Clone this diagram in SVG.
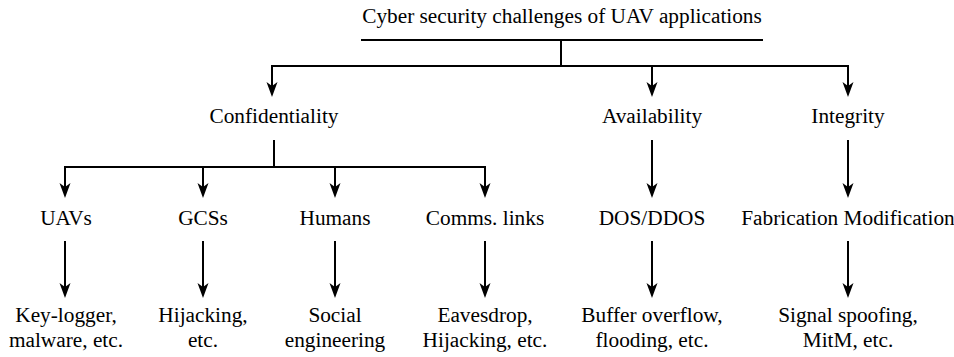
<svg xmlns="http://www.w3.org/2000/svg" width="954" height="357" viewBox="0 0 954 357">
<style>
text{font-family:"Liberation Serif","Times New Roman",serif;font-size:21.3px;fill:#000;text-anchor:middle}
.c line,.c path{stroke:#000;stroke-width:2;fill:none}
.a{marker-end:url(#ah)}
</style>
<defs>
<marker id="ah" markerUnits="userSpaceOnUse" markerWidth="16" markerHeight="12" viewBox="0 -6 16 12" refX="4" refY="0" orient="auto">
<path d="M0,-5.5 L15,0 L0,5.5 L4,0 Z" fill="#000" stroke="none"/>
</marker>
</defs>
<g id="root"><text x="562" y="23">Cyber security challenges of UAV applications</text></g>
<g id="confidentiality"><text x="274" y="123">Confidentiality</text></g>
<g id="availability"><text x="652" y="123">Availability</text></g>
<g id="integrity"><text x="848" y="123">Integrity</text></g>
<g id="uavs"><text x="66" y="225">UAVs</text></g>
<g id="gcss"><text x="203" y="225">GCSs</text></g>
<g id="humans"><text x="335" y="225">Humans</text></g>
<g id="comms"><text x="485" y="225">Comms. links</text></g>
<g id="dos"><text x="652" y="225">DOS/DDOS</text></g>
<g id="fabmod"><text x="848" y="225">Fabrication Modification</text></g>
<g id="keylogger"><text x="66" y="322">Key-logger,</text><text x="66" y="347">malware, etc.</text></g>
<g id="hijacking"><text x="203" y="322">Hijacking,</text><text x="203" y="347">etc.</text></g>
<g id="social"><text x="335" y="322">Social</text><text x="335" y="347">engineering</text></g>
<g id="eavesdrop"><text x="485" y="322">Eavesdrop,</text><text x="485" y="347">Hijacking, etc.</text></g>
<g id="buffer"><text x="652" y="322">Buffer overflow,</text><text x="652" y="347">flooding, etc.</text></g>
<g id="signal"><text x="848" y="322">Signal spoofing,</text><text x="848" y="347">MitM, etc.</text></g>
<g id="connectors" class="c">
<line x1="361" y1="40" x2="763" y2="40"/>
<line x1="561" y1="40" x2="561" y2="66"/>
<path d="M272,86 V66 H848 V86" class="a"/>
<line x1="652" y1="66" x2="652" y2="86" class="a"/>
<line x1="272" y1="67" x2="272" y2="86" class="a"/>
<line x1="274" y1="140" x2="274" y2="167"/>
<path d="M65,187 V167 H485 V187" class="a"/>
<line x1="65" y1="168" x2="65" y2="187" class="a"/>
<line x1="203" y1="167" x2="203" y2="187" class="a"/>
<line x1="335" y1="167" x2="335" y2="187" class="a"/>
<line x1="652" y1="140" x2="652" y2="187" class="a"/>
<line x1="848" y1="140" x2="848" y2="187" class="a"/>
<line x1="65" y1="241" x2="65" y2="287" class="a"/>
<line x1="203" y1="241" x2="203" y2="287" class="a"/>
<line x1="335" y1="241" x2="335" y2="287" class="a"/>
<line x1="485" y1="241" x2="485" y2="287" class="a"/>
<line x1="652" y1="241" x2="652" y2="287" class="a"/>
<line x1="848" y1="241" x2="848" y2="287" class="a"/>
</g>
</svg>
